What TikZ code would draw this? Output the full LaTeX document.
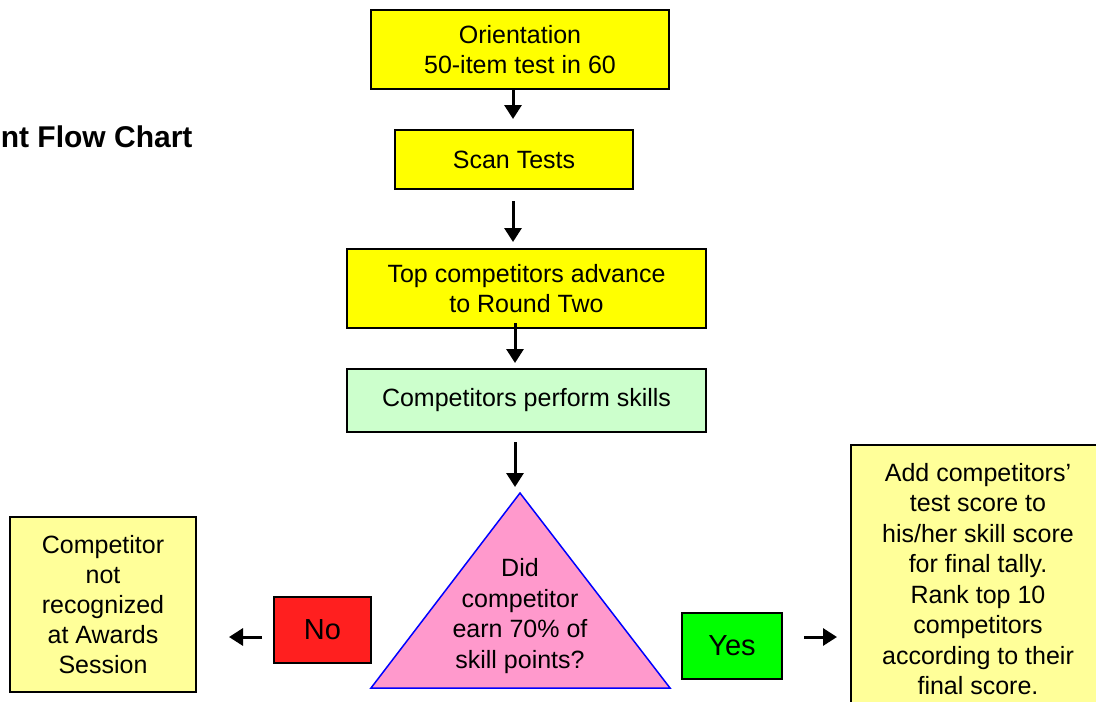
\documentclass[tikz,border=0pt]{standalone}
\usepackage{fontspec}
\setmainfont{Liberation Sans}
\usetikzlibrary{arrows.meta,calc}
\definecolor{yel}{HTML}{FFFF00}
\definecolor{paleyel}{HTML}{FFFF99}
\definecolor{mint}{HTML}{CCFFCC}
\definecolor{redbox}{HTML}{FF1F1F}
\definecolor{greenbox}{HTML}{00FF00}
\definecolor{pinktri}{HTML}{FF99CC}
\tikzset{
  box/.style={draw=black, line width=2pt, inner sep=0pt, align=center,
    font=\fontsize{25}{30}\selectfont},
  bigtxt/.style={box, font=\fontsize{29}{34}\selectfont},
  arr/.style={line width=3pt, -{Triangle[length=14pt,width=17pt]}},
}
\begin{document}
\begin{tikzpicture}[x=1pt,y=-1pt]
\useasboundingbox (0,0) rectangle (1096,702);
\clip (0,0) rectangle (1096,702);
\fill[white] (0,0) rectangle (1096,702);

\node[anchor=east, font=\fontsize{30}{32}\selectfont\bfseries] (title) at (196,137) {nt Flow Chart};

\node[box, fill=yel, minimum width=298pt, minimum height=79pt] (b1) at (520,49.5) {Orientation\\50-item test in 60};
\node[box, fill=yel, minimum width=238pt, minimum height=59pt] (b2) at (514,159.5) {Scan Tests};
\node[box, fill=yel, minimum width=359pt, minimum height=79pt] (b3) at (526.5,288.5) {Top competitors advance\\to Round Two};
\node[box, fill=mint, minimum width=359pt, minimum height=63pt] (b4) at (526.5,400.5) {Competitors perform skills};

\coordinate (apex) at (520,493);
\coordinate (bl) at (371,688);
\coordinate (br) at (670,688);
\filldraw[fill=pinktri, draw=blue, line width=1.5pt, line join=miter] (apex) -- (br) -- (bl) -- cycle;
\node[align=center, font=\fontsize{25}{30.5}\selectfont] (q) at (520,616) {Did\\competitor\\earn 70\% of\\skill points?};

\node[bigtxt, fill=redbox, minimum width=97pt, minimum height=66pt] (no) at (322.5,630) {No};
\node[bigtxt, fill=greenbox, minimum width=100pt, minimum height=66pt] (yes) at (732,646) {Yes};

\node[box, fill=paleyel, minimum width=186pt, minimum height=175pt] (lbox) at (103,604.5) {Competitor\\not\\recognized\\at Awards\\Session};
\node[box, fill=paleyel, minimum width=254pt, minimum height=268pt, font=\fontsize{25}{30.5}\selectfont] (rbox) at (978,579) {Add competitors’\\test score to\\his/her skill score\\for final tally.\\Rank top 10\\competitors\\according to their\\final score.};

\coordinate (xa) at (513,0);
\coordinate (xb) at (515,0);
\draw[arr, shorten >=10pt] (xa |- b1.south) -- (xa |- b2.north);
\draw[arr, shorten <=11pt, shorten >=6pt] (xa |- b2.south) -- (xa |- b3.north);
\draw[arr, shorten <=-6pt, shorten >=5pt] (xb |- b3.south) -- (xb |- b4.north);
\draw[arr, shorten <=9pt, shorten >=6pt] (xb |- b4.south) -- (xb |- apex);

\coordinate (ly) at (0,637);
\draw[arr, shorten <=11pt, shorten >=32pt] (no.west |- ly) -- (lbox.east |- ly);
\draw[arr, shorten <=21pt, shorten >=13pt] (yes.east |- ly) -- (rbox.west |- ly);
\end{tikzpicture}
\end{document}
